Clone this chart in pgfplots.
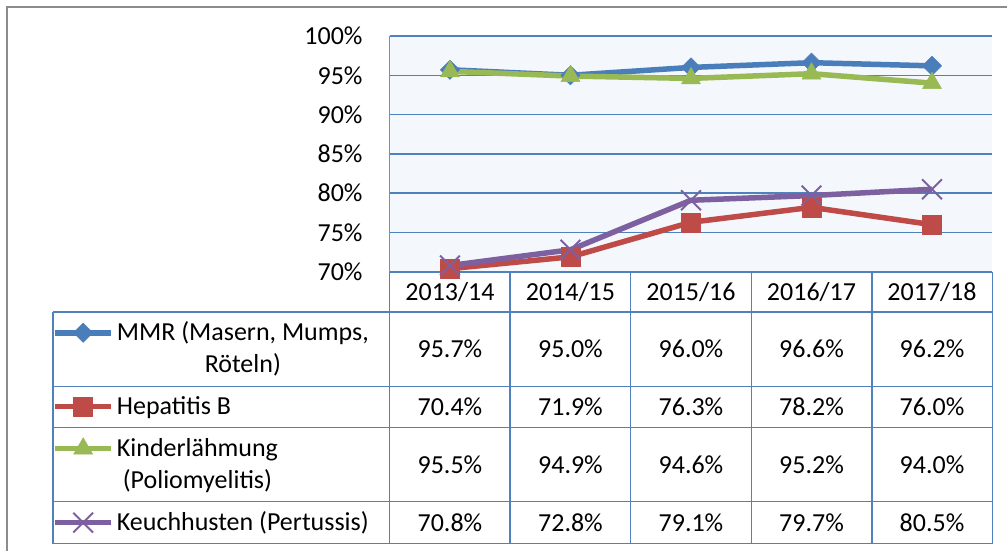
\documentclass[border=0pt]{standalone}
\usepackage{pgfplots}
\pgfplotsset{compat=1.18}
\usepackage{fontspec}
\setmainfont{Carlito}
\definecolor{sblue}{HTML}{4A7EBB}
\definecolor{sred}{HTML}{BE4B48}
\definecolor{sgreen}{HTML}{98B954}
\definecolor{spurple}{HTML}{7D60A0}
\definecolor{gridblue}{HTML}{4F81BD}
\definecolor{bgc}{HTML}{F4F8FC}
\begin{document}
\fontsize{26}{31.7}\selectfont
\begin{tikzpicture}
\path (0pt,0pt) rectangle (1008pt,551pt);
\draw[color=black!45, line width=1.5pt] (7pt,0pt) -- (7pt,544pt) -- (1008pt,544pt);
% data table grid
\begin{scope}[gridblue, line width=1.5pt]
\draw (390pt,279pt) -- (993pt,279pt);
\foreach \y in {239,164,123,49,7} \draw (53pt,\y pt) -- (993pt,\y pt);
\draw (53pt,239pt) -- (53pt,7pt);
\foreach \x in {390,510.6,631.2,751.8,872.4,993} \draw (\x pt,279pt) -- (\x pt,7pt);
\end{scope}
% header
\node at (450.3pt,259pt) {2013/14};
\node at (570.9pt,259pt) {2014/15};
\node at (691.5pt,259pt) {2015/16};
\node at (812.1pt,259pt) {2016/17};
\node at (932.7pt,259pt) {2017/18};
% MMR
\node at (450.3pt,201.5pt) {95.7\%};
\node at (570.9pt,201.5pt) {95.0\%};
\node at (691.5pt,201.5pt) {96.0\%};
\node at (812.1pt,201.5pt) {96.6\%};
\node at (932.7pt,201.5pt) {96.2\%};
% Hep B
\node at (450.3pt,143.5pt) {70.4\%};
\node at (570.9pt,143.5pt) {71.9\%};
\node at (691.5pt,143.5pt) {76.3\%};
\node at (812.1pt,143.5pt) {78.2\%};
\node at (932.7pt,143.5pt) {76.0\%};
% Kinder
\node at (450.3pt,86pt) {95.5\%};
\node at (570.9pt,86pt) {94.9\%};
\node at (691.5pt,86pt) {94.6\%};
\node at (812.1pt,86pt) {95.2\%};
\node at (932.7pt,86pt) {94.0\%};
% Keuch
\node at (450.3pt,28pt) {70.8\%};
\node at (570.9pt,28pt) {72.8\%};
\node at (691.5pt,28pt) {79.1\%};
\node at (812.1pt,28pt) {79.7\%};
\node at (932.7pt,28pt) {80.5\%};
\begin{axis}[
  at={(390pt,279pt)}, anchor=south west,
  scale only axis, width=603pt, height=236pt,
  xmin=0, xmax=5, ymin=70, ymax=100,
  ytick={70,75,...,100}, xtick=\empty,
  ymajorgrids, grid style={gridblue, line width=1.5pt},
  major tick length=0pt,
  axis line style={draw=none},
  axis background/.style={fill=bgc},
  clip=false,
  yticklabel={\pgfmathprintnumber{\tick}\%},
  /pgf/number format/assume math mode=true,
  yticklabel style={anchor=east, inner sep=0pt, xshift=-27pt},
  legend style={at={(-0.5597,-0.19068)}, anchor=north west, draw=none, fill=none,
    inner sep=0pt, outer sep=0pt, row sep=0pt, column sep=3pt,
    cells={anchor=base west}, nodes={inner sep=0pt, outer sep=0pt, text depth=}},
  legend image code/.code={\draw[mark repeat=2,mark phase=2,#1] plot coordinates {(0pt,8pt)(28pt,8pt)(56pt,8pt)};},
]
\addplot[sblue, line width=5.5pt, line join=round, mark=square*, mark size=6.8pt,
  mark options={rotate=45, line width=0.5pt, fill=sblue}]
  coordinates {(0.5,95.7)(1.5,95.0)(2.5,96.0)(3.5,96.6)(4.5,96.2)};
\addlegendentry{\vtop to 74pt{\hbox{\begin{tabular}[t]{@{}c@{}}\rule{0pt}{24pt}MMR (Masern, Mumps,\\Röteln)\end{tabular}}\vfil}}
\addplot[sred, line width=5.5pt, line join=round, mark=square*, mark size=9.5pt,
  mark options={line width=0.5pt, fill=sred}]
  coordinates {(0.5,70.4)(1.5,71.9)(2.5,76.3)(3.5,78.2)(4.5,76.0)};
\addlegendentry{\vtop to 42pt{\hbox{\begin{tabular}[t]{@{}c@{}}\rule{0pt}{24pt}Hepatitis B\end{tabular}}\vfil}}
\addplot[sgreen, line width=5.5pt, line join=round, mark=triangle*, mark size=11pt,
  mark options={line width=0.5pt, fill=sgreen}]
  coordinates {(0.5,95.5)(1.5,94.9)(2.5,94.6)(3.5,95.2)(4.5,94.0)};
\addlegendentry{\vtop to 74pt{\hbox{\begin{tabular}[t]{@{}c@{}}\rule{0pt}{24pt}Kinderlähmung\\(Poliomyelitis)\end{tabular}}\vfil}}
\addplot[spurple, line width=5.5pt, line join=round, mark=x, mark size=14pt,
  mark options={line width=2pt}]
  coordinates {(0.5,70.8)(1.5,72.8)(2.5,79.1)(3.5,79.7)(4.5,80.5)};
\addlegendentry{\vtop to 30pt{\hbox{\begin{tabular}[t]{@{}c@{}}\rule{0pt}{24pt}Keuchhusten (Pertussis)\end{tabular}}\vfil}}
\end{axis}
\draw[color=black!45, line width=1.5pt] (390pt,279pt) -- (390pt,515pt);
\end{tikzpicture}
\end{document}
